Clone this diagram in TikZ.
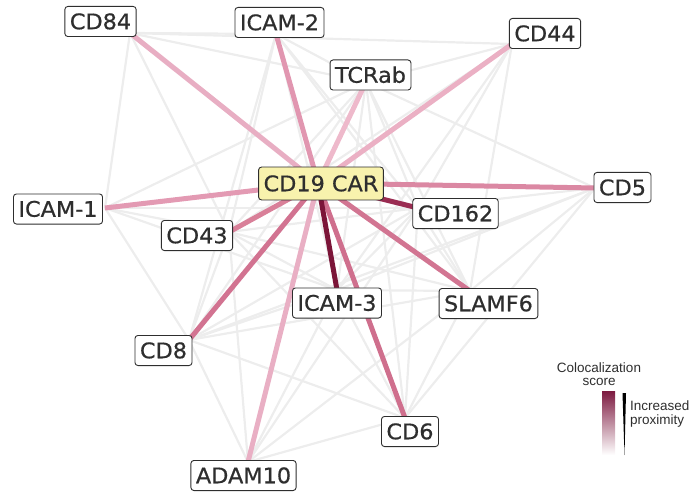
\documentclass[tikz,border=0pt]{standalone}
\usepackage{fontspec}
\setmainfont{Liberation Sans}
\newfontfamily\lblfont[FakeStretch=1.04, FakeBold=0.6]{DejaVu Sans}
\usepackage{xcolor}
\usepackage{tikz}
\usetikzlibrary{positioning}

\definecolor{txt}{HTML}{2E2E2E}
\definecolor{weakgray}{HTML}{EDEDED}
\definecolor{carfill}{HTML}{F8F2AD}
\definecolor{sCDeightfour}{HTML}{E8AEC3}
\definecolor{sICAMtwo}{HTML}{E196B0}
\definecolor{sTCRab}{HTML}{EEB9CB}
\definecolor{sCDfourfour}{HTML}{EBB0C4}
\definecolor{sCDfive}{HTML}{DB88A3}
\definecolor{sCDonesixtwo}{HTML}{9A2C52}
\definecolor{sSLAMF}{HTML}{D27592}
\definecolor{sCDsix}{HTML}{CF6F8D}
\definecolor{sICAMthree}{HTML}{7B1538}
\definecolor{sADAM}{HTML}{E9AFC4}
\definecolor{sCDeight}{HTML}{D27391}
\definecolor{sCDfourthree}{HTML}{D98099}
\definecolor{sICAMone}{HTML}{E39AB3}
\definecolor{barTop}{HTML}{7D1A40}

\tikzset{
  lbl/.style={draw=txt, line width=0.9pt, rounded corners=3pt, fill=white, text=txt,
    font=\lblfont\fontsize{21.5pt}{24pt}\selectfont,
    inner xsep=5pt, inner ysep=7.3pt, text height=15.5pt, text depth=0pt},
  carlbl/.style={lbl, fill=carfill, inner ysep=8.7pt},
  weak/.style={draw=weakgray, line width=2.2pt},
  coloc/.style={draw=#1, line width=5pt},
  legtext/.style={text=txt, font=\fontsize{13.5pt}{13.5pt}\selectfont, inner sep=0pt}
}

\begin{document}
\begin{tikzpicture}[x=1pt, y=-1pt]
    \useasboundingbox (0,0) rectangle (699,492);

    % Punti dei nodi
    \coordinate (car)    at (318,183);
    \coordinate (cd84)   at (130,33);
    \coordinate (icam2)  at (276,34);
    \coordinate (tcrab)  at (366,82);
    \coordinate (cd44)   at (512,44);
    \coordinate (cd5)    at (595,188);
    \coordinate (cd162)  at (418,208);
    \coordinate (slamf6) at (470,291);
    \coordinate (cd6)    at (405,418);
    \coordinate (icam3)  at (337,290);
    \coordinate (adam10) at (248,462);
    \coordinate (cd8)    at (189,340);
    \coordinate (cd43)   at (229,232);
    \coordinate (icam1)  at (105,208);

    % Archi deboli
    \foreach \a/\b in {cd84/icam2, cd84/cd44, cd84/tcrab, cd84/icam1, cd84/cd43,
        icam2/tcrab, icam2/cd8, icam2/cd43, icam2/cd162, icam2/slamf6, icam2/icam3,
        tcrab/cd44, tcrab/cd5, tcrab/icam1, tcrab/cd43, tcrab/cd162, tcrab/slamf6,
        tcrab/icam3, tcrab/cd6, tcrab/cd8,
        cd44/cd162, cd44/icam3, cd44/slamf6, cd44/cd43,
        cd5/cd162, cd5/slamf6, cd5/icam3, cd5/cd6, cd5/cd8,
        cd162/slamf6, cd162/icam3, cd162/cd6, cd162/adam10, cd162/cd8, cd162/cd43, cd162/icam1,
        slamf6/icam3, slamf6/cd6, slamf6/cd8, slamf6/cd43, slamf6/adam10,
        icam3/cd6, icam3/adam10, icam3/cd8, icam3/cd43, icam3/icam1,
        cd6/adam10, cd6/cd8, cd6/cd43,
        adam10/cd8, adam10/cd43, cd8/cd43, cd8/icam1, cd43/icam1}
        \draw[weak] (\a) -- (\b);

    % Archi verso CD19 CAR
    \foreach \b/\c in {tcrab/sTCRab, cd84/sCDeightfour, cd44/sCDfourfour, adam10/sADAM,
        icam1/sICAMone, icam2/sICAMtwo, cd5/sCDfive, cd43/sCDfourthree, cd8/sCDeight,
        slamf6/sSLAMF, cd6/sCDsix, cd162/sCDonesixtwo, icam3/sICAMthree}
        \draw[coloc=\c] (car) -- (\b);

    % Etichette
    \node[carlbl] (carl)    at (321,183.5) {CD19 CAR};
    \node[lbl]    (cd84l)   at (100.5,21.5) {CD84};
    \node[lbl]    (icam2l)  at (279.5,22.5) {ICAM-2};
    \node[lbl]    (tcrabl)  at (370.5,75) {TCRab};
    \node[lbl]    (cd44l)   at (545,33.5) {CD44};
    \node[lbl]    (cd5l)    at (622.5,187.5) {CD5};
    \node[lbl]    (cd162l)  at (455.5,213.5) {CD162};
    \node[lbl]    (slamf6l) at (488.5,303.5) {SLAMF6};
    \node[lbl]    (icam3l)  at (337,303) {ICAM-3};
    \node[lbl]    (cd6l)    at (410,431.5) {CD6};
    \node[lbl]    (adam10l) at (243.5,475.5) {ADAM10};
    \node[lbl]    (cd8l)    at (163.5,350.5) {CD8};
    \node[lbl]    (cd43l)   at (197,235.5) {CD43};
    \node[lbl]    (icam1l)  at (58,209) {ICAM-1};

    % Legenda
    \node[legtext, align=center] (legtitle) at (599,374) {Colocalization\\score};
    \shade[top color=barTop, bottom color=white] (602,391) rectangle (615,455);
    \fill[black] (622.5,393) -- (626,393) -- (624.5,455) -- cycle;
    \node[legtext, align=left, anchor=west] (legprox) at (630,414) {Increased\\proximity};
    \end{tikzpicture}
\end{document}
